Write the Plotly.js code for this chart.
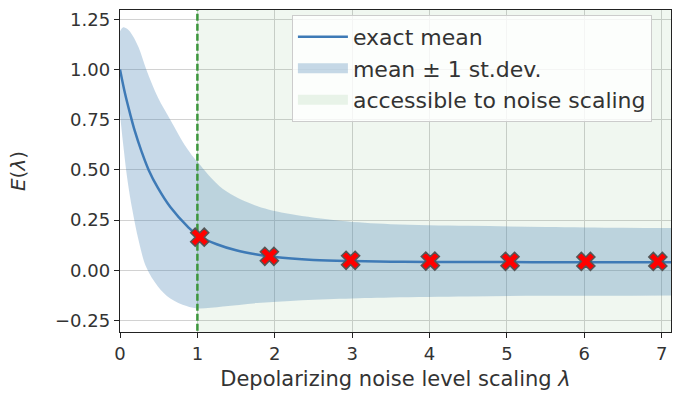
<!DOCTYPE html>
<html>
<head>
<meta charset="utf-8">
<script src="https://cdn.plot.ly/plotly-3.0.1.min.js"></script>
<style>html,body{margin:0;padding:0;background:#fff;}#chart{width:673px;height:396px;}</style>
</head>
<body>
<div id="chart"></div>
<script>
// exact mean curve
const meanX = [0, 0.065, 0.13, 0.19, 0.28, 0.37, 0.49, 0.65, 0.88, 1.0, 1.25, 1.5, 1.75, 2.0, 2.5, 3.0, 3.5, 4.0, 5.0, 6.0, 7.2];
const meanY = [1.0, 0.88, 0.78, 0.695, 0.59, 0.5, 0.41, 0.315, 0.215, 0.175, 0.13, 0.1, 0.08, 0.066, 0.052, 0.046, 0.043, 0.042, 0.041, 0.04, 0.04];
// mean +/- 1 st.dev. band (sampled on the same lambda grid)
const bandX = [0, 0.04, 0.1, 0.16, 0.24, 0.34, 0.49, 0.65, 0.86, 1.0, 1.33, 1.77, 2.2, 2.84, 3.5, 4.5, 5.5, 6.5, 7.2];
const upperY = [1.19, 1.21, 1.2, 1.17, 1.11, 1.0, 0.86, 0.75, 0.61, 0.54, 0.405, 0.32, 0.28, 0.247, 0.23, 0.222, 0.216, 0.212, 0.21];
const lowerY = [0.78, 0.63, 0.44, 0.3, 0.15, 0.015, -0.08, -0.14, -0.178, -0.19, -0.18, -0.163, -0.153, -0.142, -0.135, -0.13, -0.127, -0.126, -0.125];
// noisy estimates (red crosses)
const crossX = [1.03, 1.93, 2.98, 4.01, 5.04, 6.02, 6.95];
const crossY = [0.165, 0.07, 0.05, 0.046, 0.045, 0.044, 0.044];
// accessible region
const accessX = [1, 7.3, 7.3, 1];
const accessY = [-0.5, -0.5, 1.5, 1.5];
const xTicks = [0, 1, 2, 3, 4, 5, 6, 7];
const yTicks = [-0.25, 0, 0.25, 0.5, 0.75, 1.0, 1.25];

const bandColor = 'rgba(70,130,180,0.3)';
const accessColor = 'rgba(60,150,60,0.08)';

const traces = [
  {x: accessX, y: accessY, fill: 'toself', mode: 'lines', line: {width: 0, color: 'rgba(0,0,0,0)'},
   fillcolor: accessColor, showlegend: false, hoverinfo: 'skip'},
  {x: bandX, y: lowerY, mode: 'lines', line: {width: 0, color: 'rgba(0,0,0,0)', shape: 'spline', smoothing: 1},
   showlegend: false, hoverinfo: 'skip'},
  {x: bandX, y: upperY, fill: 'tonexty', mode: 'lines', line: {width: 0, color: 'rgba(0,0,0,0)', shape: 'spline', smoothing: 1},
   fillcolor: bandColor, showlegend: false, hoverinfo: 'skip'},
  {x: meanX, y: meanY, mode: 'lines', line: {color: 'rgb(62,122,182)', width: 2.5, shape: 'spline', smoothing: 1},
   name: 'exact mean', legendrank: 1, legendgroup: 'a'},
  {x: [1, 1], y: [-0.5, 1.5], mode: 'lines', line: {color: 'rgb(60,150,60)', width: 2.5, dash: '7px,3px'}, showlegend: false},
  {x: crossX, y: crossY, mode: 'markers', showlegend: false,
   marker: {symbol: 'x', size: 16, color: 'rgb(255,0,0)', line: {color: '#555', width: 1.5}}},
  // legend-only entries for the filled areas
  {x: [null], y: [null], mode: 'lines', line: {color: bandColor, width: 16},
   name: 'mean \u00B1 1 st.dev.', legendrank: 2, legendgroup: 'b'},
  {x: [null], y: [null], mode: 'lines', line: {color: 'rgba(60,150,60,0.1)', width: 16},
   name: 'accessible to noise scaling', legendrank: 3, legendgroup: 'c'}
];

const axisCommon = {
  showline: true, linecolor: '#222', linewidth: 1.2, mirror: true,
  ticks: 'outside', ticklen: 5, tickcolor: '#222', tickwidth: 1,
  showgrid: true, gridcolor: '#d2d2d2', gridwidth: 1, zeroline: false,
  tickfont: {family: 'DejaVu Sans', size: 18, color: '#333'}
};

const layout = {
  width: 673, height: 396,
  margin: {l: 120, r: 2, t: 10, b: 64},
  paper_bgcolor: '#fff', plot_bgcolor: '#fff',
  font: {family: 'DejaVu Sans', color: '#333'},
  xaxis: Object.assign({}, axisCommon, {range: [0, 7.12], tickvals: xTicks, ticktext: xTicks.map(String),
    title: {text: 'Depolarizing noise level scaling <i>\u03BB</i>', font: {family: 'DejaVu Sans', size: 21, color: '#333'}, standoff: 8}}),
  yaxis: Object.assign({}, axisCommon, {range: [-0.307, 1.296], tickvals: yTicks, tickformat: '.2f',
    title: {text: '<i>E</i>(<i>\u03BB</i>)', font: {family: 'DejaVu Sans', size: 20, color: '#333'}, standoff: 24}}),
  legend: {x: 0.312, y: 0.985, xanchor: 'left', yanchor: 'top', bgcolor: 'rgba(255,255,255,0.8)',
    bordercolor: '#ccc', borderwidth: 1, font: {family: 'DejaVu Sans', size: 22, color: '#333'},
    itemwidth: 50, traceorder: 'normal', tracegroupgap: 3},
  showlegend: true
};

Plotly.newPlot('chart', traces, layout, {displayModeBar: false, staticPlot: true});
</script>
</body>
</html>
